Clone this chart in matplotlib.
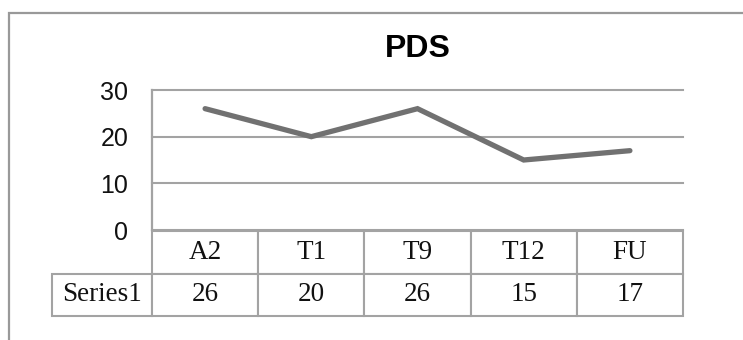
import matplotlib
matplotlib.use("Agg")
import matplotlib.pyplot as plt
from matplotlib.patches import Rectangle

categories = ["A2", "T1", "T9", "T12", "FU"]
series_name = "Series1"
values = [26, 20, 26, 15, 17]
yticks = [0, 10, 20, 30]
title = "PDS"

W, H = 743, 340
fig = plt.figure(figsize=(W / 100, H / 100), dpi=100)

# plot area in pixel terms
left_px, right_px, top_px, bottom_px = 152, 683, 90, 230
ax = fig.add_axes([left_px / W, 1 - bottom_px / H,
                   (right_px - left_px) / W, (bottom_px - top_px) / H])

grid_col = "#a3a3a3"
line_col = "#717171"

x = list(range(len(categories)))
ax.plot(x, values, color=line_col, lw=3.8, solid_capstyle="round",
        solid_joinstyle="miter", zorder=3)

ax.set_xlim(-0.5, len(categories) - 0.5)
ax.set_ylim(0, 30)
ax.set_yticks(yticks)
ax.set_xticks([])
ax.tick_params(axis="y", length=0, pad=17, labelsize=18, labelcolor="#111111")
for lbl in ax.get_yticklabels():
    lbl.set_family("Liberation Sans")

for s in ["top", "right", "bottom"]:
    ax.spines[s].set_visible(False)
ax.spines["left"].set_color(grid_col)
ax.spines["left"].set_linewidth(1.6)

ax.yaxis.grid(True, color=grid_col, lw=1.5)
ax.set_axisbelow(True)
for gl in ax.get_ygridlines():
    gl.set_clip_on(False)

# data table below the plot
label_w = 100
col_w = (right_px - left_px) / len(categories)
total_w = label_w + col_w * len(categories)
widths = [label_w / total_w] + [col_w / total_w] * len(categories)
table_top, table_bottom = 231, 316
ax_h = bottom_px - top_px
tbl = ax.table(
    cellText=[[series_name] + [str(v) for v in values]],
    colLabels=[""] + categories,
    colWidths=widths,
    cellLoc="center",
    bbox=[-label_w / (right_px - left_px),
          -(table_bottom - bottom_px) / ax_h,
          total_w / (right_px - left_px),
          (table_bottom - table_top) / ax_h],
)
tbl.auto_set_font_size(False)
for (r, c), cell in tbl.get_celld().items():
    cell.set_edgecolor(grid_col)
    cell.set_linewidth(1.5)
    cell.get_text().set_fontsize(19.5)
    cell.get_text().set_family("Liberation Serif")
    cell.get_text().set_color("#111111")
    if r == 0 and c == 0:
        cell.set_visible(False)

fig.text(418 / W, 1 - 49 / H, title, ha="center", va="center",
         fontsize=23, fontweight="bold", family="Liberation Sans")

# outer frame, running off the right and bottom edges
fig.add_artist(Rectangle((9 / W, -0.1), 1.2, 1.1 - 12.5 / H,
                         transform=fig.transFigure, fill=False,
                         edgecolor="#999999", lw=1.6))

fig.savefig("out.png", dpi=100)
